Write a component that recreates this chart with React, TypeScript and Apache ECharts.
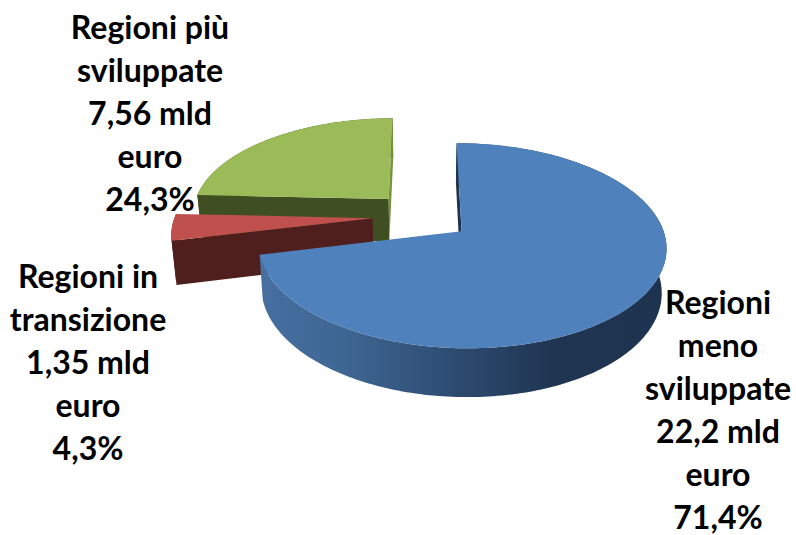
import React, { useEffect, useRef } from "react";
import * as echarts from "echarts";

const categories = ["Regioni meno sviluppate", "Regioni in transizione", "Regioni più sviluppate"];
const values = [22.2, 1.35, 7.56];
const amountLabels = ["22,2 mld", "1,35 mld", "7,56 mld"];
const percentLabels = ["71,4%", "4,3%", "24,3%"];
const categoryLines = [
  ["Regioni", "meno", "sviluppate"],
  ["Regioni in", "transizione"],
  ["Regioni più", "sviluppate"],
];
const paintOrder = [2, 1, 0];
const labelCentres = [
  [718, 409],
  [88, 361],
  [150, 112],
];

// Projection of the tilted, exploded disc
const VX = 422, VY = 215.9, KX = 202, KZ = 98.3, W0 = 1.022, PERSP = 0.142;
const HEIGHT = 45, DEPTH_SCALE = 1.02, EXPLODE = 0.25;

const topColors = ["#4f81bd", "#c0504d", "#9bbb59"];
const startWallColors = ["#1e3350", "#4f1f1e", "#404f22"];
const endWallColors = ["#1e3350", "#4f1f1e", "#76923c"];

const total = values.reduce((a, b) => a + b, 0);

function project(X: number, Z: number, bottom: boolean): number[] {
  const w = (W0 - Z * PERSP) * (bottom ? DEPTH_SCALE : 1);
  return [VX + (X * KX) / w, VY + (Z * KZ + (bottom ? HEIGHT : 0)) / w];
}

function area(p: number[][]): number {
  let s = 0;
  for (let i = 0; i < p.length; i++) {
    const q = p[(i + 1) % p.length];
    s += p[i][0] * q[1] - q[0] * p[i][1];
  }
  return s;
}

function renderSlice(_: any, api: any) {
  const idx = api.value(1);
  let before = 0;
  for (let i = 0; i < idx; i++) before += values[i];
  const t0 = (before / total) * Math.PI * 2;
  const t1 = ((before + api.value(0)) / total) * Math.PI * 2;
  const mid = (t0 + t1) / 2;
  const cx = EXPLODE * Math.sin(mid);
  const cz = -EXPLODE * Math.cos(mid);
  const rim = (t: number, b: boolean) => project(cx + Math.sin(t), cz - Math.cos(t), b);
  const steps = Math.max(4, Math.ceil((t1 - t0) / 0.02));
  const topArc: number[][] = [];
  const botArc: number[][] = [];
  for (let i = 0; i <= steps; i++) {
    const t = t0 + ((t1 - t0) * i) / steps;
    topArc.push(rim(t, false));
    botArc.push(rim(t, true));
  }
  const apexTop = project(cx, cz, false);
  const apexBot = project(cx, cz, true);
  const children: any[] = [];
  const poly = (points: number[][], fill: any) =>
    children.push({ type: "polygon", shape: { points }, style: { fill, stroke: "none" } });

  const wallFill =
    idx === 0
      ? new echarts.graphic.LinearGradient(0, 0, 1, 0, [
          { offset: 0, color: "#466fa0" },
          { offset: 0.2, color: "#3f6794" },
          { offset: 0.48, color: "#2d4b70" },
          { offset: 0.72, color: "#1f3552" },
          { offset: 1, color: "#1e3350" },
        ])
      : startWallColors[idx];
  poly([...topArc, ...botArc.slice().reverse()], wallFill);

  const startWall = [apexTop, topArc[0], botArc[0], apexBot];
  if (area(startWall) < 0) poly(startWall, startWallColors[idx]);
  const endWall = [apexTop, topArc[steps], botArc[steps], apexBot];
  if (area(endWall) > 0) poly(endWall, endWallColors[idx]);

  poly([apexTop, ...topArc], topColors[idx]);
  return { type: "group", children };
}

export default function App() {
  const ref = useRef<HTMLDivElement>(null);
  useEffect(() => {
    document.body.style.margin = "0";
    const chart = echarts.init(ref.current!, undefined, { renderer: "svg" });
    chart.setOption({
      animation: false,
      backgroundColor: "#ffffff",
      series: [
        {
          type: "custom",
          coordinateSystem: "none",
          silent: true,
          renderItem: renderSlice,
          encode: { value: 0 },
          data: paintOrder.map((i) => ({ name: categories[i], value: [values[i], i] })),
        },
      ],
      graphic: categories.map((_, i) => ({
        type: "text",
        x: labelCentres[i][0],
        y: labelCentres[i][1],
        z: 10,
        style: {
          text: [...categoryLines[i], amountLabels[i], "euro", percentLabels[i]].join("\n"),
          fill: "#000000",
          font: "bold 32px Lato",
          lineHeight: 43,
          align: "center",
          verticalAlign: "middle",
        },
      })),
    });
    return () => chart.dispose();
  }, []);
  return <div ref={ref} style={{ width: 796, height: 535 }} />;
}
